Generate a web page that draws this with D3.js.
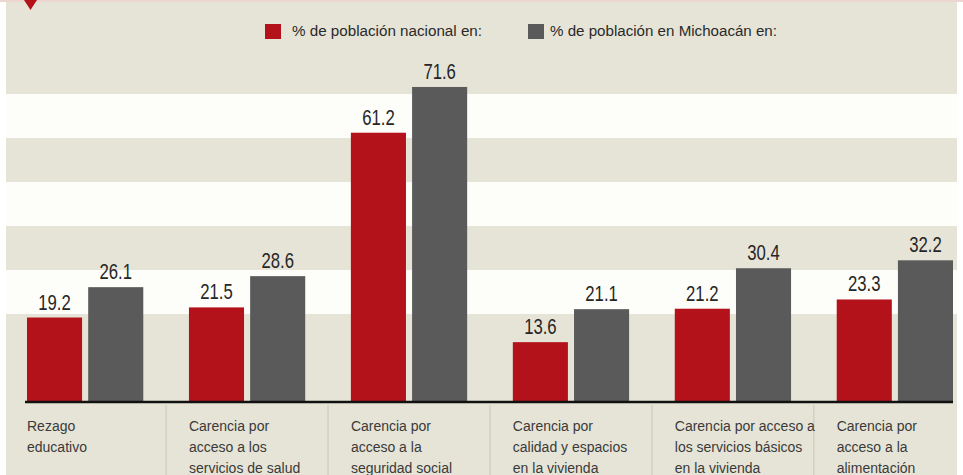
<!DOCTYPE html>
<html>
<head>
<meta charset="utf-8">
<script src="https://cdn.jsdelivr.net/npm/d3@7"></script>
<style>
  html, body { margin: 0; padding: 0; background: #ffffff; }
  svg { display: block; }
  text { font-family: "Liberation Sans Narrow", "Liberation Sans", "DejaVu Sans Condensed", sans-serif; }
</style>
</head>
<body>
<svg id="chart" width="963" height="475"></svg>
<script>
// ---- data ----
const categories = [
  ["Rezago", "educativo"],
  ["Carencia por", "acceso a los", "servicios de salud"],
  ["Carencia por", "acceso a la", "seguridad social"],
  ["Carencia por", "calidad y espacios", "en la vivienda"],
  ["Carencia por acceso a", "los servicios básicos", "en la vivienda"],
  ["Carencia por", "acceso a la", "alimentación"]
];
const nacional = [19.2, 21.5, 61.2, 13.6, 21.2, 23.3];
const michoacan = [26.1, 28.6, 71.6, 21.1, 30.4, 32.2];
const seriesNames = ["% de población nacional en:", "% de población en Michoacán en:"];
const whiteBands = [[20, 30], [40, 50], [60, 70]];

// ---- setup ----
const W = 963, H = 475;
const svg = d3.select("#chart");
const RED = "#b3121a", GREY = "#5a5a5a", BEIGE = "#e6e4d6", WHITE = "#fdfdfa";
const panelL = 6, panelR = 957;

const ids = categories.map((c, i) => i);
const x = d3.scaleBand().domain(ids).range([27, 953]).paddingInner(0.282).paddingOuter(0);
const x1 = d3.scaleBand().domain([0, 1]).range([0, x.bandwidth()]).paddingInner(0.1);
const y = d3.scaleLinear().domain([0, 80]).range([402, 50]);

// panel background
svg.append("rect").attr("x", panelL).attr("y", 0).attr("width", panelR - panelL).attr("height", H).attr("fill", BEIGE);
// top thin line
svg.append("rect").attr("x", 0).attr("y", 0).attr("width", W).attr("height", 2).attr("fill", "#edd6cf");
// red marker triangle
svg.append("path").attr("d", "M24,0 L37,0 L30.5,10 Z").attr("fill", RED);

// white bands
svg.append("g").selectAll("rect").data(whiteBands).join("rect")
  .attr("x", panelL).attr("width", panelR - panelL)
  .attr("y", d => y(d[1])).attr("height", d => y(d[0]) - y(d[1]))
  .attr("fill", WHITE);

// legend
const legend = svg.append("g");
const legX = [265, 528], legTextX = [292, 550], legLen = [190, 227];
seriesNames.forEach((n, i) => {
  legend.append("rect").attr("x", legX[i]).attr("y", 24).attr("width", 16).attr("height", 15)
    .attr("fill", i === 0 ? RED : GREY);
  legend.append("text").attr("x", legTextX[i]).attr("y", 36)
    .attr("font-size", 14).attr("fill", "#2a2a2a")
    .attr("textLength", legLen[i]).attr("lengthAdjust", "spacingAndGlyphs")
    .text(n);
});

// bars
const groups = svg.append("g").selectAll("g").data(ids).join("g")
  .attr("transform", i => `translate(${x(i)},0)`);
groups.selectAll("rect").data(i => [nacional[i], michoacan[i]]).join("rect")
  .attr("x", (d, j) => x1(j)).attr("width", x1.bandwidth())
  .attr("y", d => y(d)).attr("height", d => y(0) - y(d))
  .attr("fill", (d, j) => j === 0 ? RED : GREY);
groups.selectAll("text").data(i => [nacional[i], michoacan[i]]).join("text")
  .attr("transform", (d, j) => `translate(${x1(j) + x1.bandwidth() / 2},${y(d) - 8}) scale(0.76,1)`)
  .attr("text-anchor", "middle").attr("font-size", 22).attr("fill", "#262626")
  .text(d => d.toFixed(1));

// baseline axis
svg.append("line").attr("x1", 25).attr("x2", 953).attr("y1", y(0)).attr("y2", y(0))
  .attr("stroke", "#111").attr("stroke-width", 2.5);

// dividers between category labels
const dividers = ids.slice(1).map(i => (x(i - 1) + x.bandwidth() + x(i)) / 2);
svg.append("g").selectAll("line").data(dividers).join("line")
  .attr("x1", d => d).attr("x2", d => d).attr("y1", 405).attr("y2", H)
  .attr("stroke", "#c9c6b6").attr("stroke-width", 1);

// category labels
const labels = svg.append("g").selectAll("text").data(ids).join("text")
  .attr("x", i => x(i)).attr("y", 431).attr("font-size", 14).attr("fill", "#3a3a3a");
labels.selectAll("tspan").data(i => categories[i]).join("tspan")
  .attr("x", function() { return d3.select(this.parentNode).attr("x"); })
  .attr("dy", (d, k) => k === 0 ? 0 : 21)
  .text(d => d);
</script>
</body>
</html>
